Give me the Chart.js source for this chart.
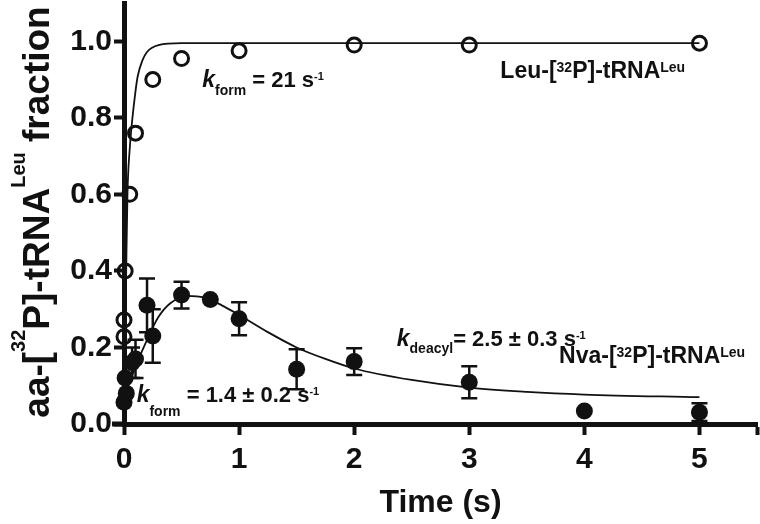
<!DOCTYPE html>
<html>
<head>
<meta charset="utf-8">
<script src="https://cdn.jsdelivr.net/npm/chart.js@4.4.1/dist/chart.umd.min.js"></script>
<style>
  html, body { margin: 0; padding: 0; background: #fff; }
  #wrap { width: 760px; height: 524px; }
</style>
</head>
<body>
<div id="wrap"><canvas id="chart"></canvas></div>
<script>
// Leu-[32P]-tRNALeu (open circles)
const leuTime = [0, 0, 0.01, 0.05, 0.1, 0.25, 0.5, 1, 2, 3, 5];
const leuFrac = [0.228, 0.272, 0.40, 0.60, 0.76, 0.90, 0.955, 0.975, 0.99, 0.99, 0.995];

// Nva-[32P]-tRNALeu (filled circles, with SEM)
const nvaTime = [0, 0.02, 0.01, 0.07, 0.1, 0.2, 0.25, 0.5, 0.75, 1, 1.5, 2, 3, 4, 5];
const nvaFrac = [0.057, 0.08, 0.12, 0.16, 0.17, 0.31, 0.23, 0.337, 0.325, 0.275, 0.143, 0.163, 0.109, 0.034, 0.031];
const nvaErr  = [0, 0, 0, 0.04, 0.05, 0.07, 0.07, 0.035, 0, 0.043, 0.052, 0.035, 0.042, 0, 0.023];

// fitted curves
const leuFitT = [0, 0.01, 0.02, 0.03, 0.05, 0.07, 0.1, 0.12, 0.16, 0.2, 0.3, 0.5, 5];
const leuFitY = [0, 0.2, 0.42, 0.6, 0.72, 0.79, 0.87, 0.91, 0.95, 0.972, 0.99, 0.995, 0.995];
const nvaFitT = [0, 0.05, 0.1, 0.2, 0.3, 0.4, 0.55, 0.7, 0.85, 1, 1.25, 1.5, 1.75, 2, 2.5, 3, 3.5, 4, 5];
const nvaFitY = [0.07, 0.11, 0.15, 0.22, 0.28, 0.315, 0.335, 0.33, 0.31, 0.285, 0.24, 0.2, 0.17, 0.145, 0.115, 0.095, 0.084, 0.077, 0.07];

const xTicks = [0, 1, 2, 3, 4, 5];
const yTicks = [0, 0.2, 0.4, 0.6, 0.8, 1.0];

const ink = '#111';
const FONT = '"Liberation Sans", Arial, sans-serif';

const pts = (xs, ys) => xs.map((x, i) => ({ x: x, y: ys[i] }));

// text runs: [text, size, style, dy]
const notes = [
  { x: 0.68, y: 0.88, runs: [['k', 23, 'italic bold', 0], ['form', 14, 'bold', 8], [' = 21 s', 22, 'bold', 0], ['-1', 11, 'bold', -7]] },
  { x: 3.27, y: 0.905, runs: [['Leu-[', 23, 'bold', 0], ['32', 14, 'bold', -6], ['P]-tRNA', 23, 'bold', 0], ['Leu', 14, 'bold', -6]] },
  { x: 2.37, y: 0.205, runs: [['k', 23, 'italic bold', 0], ['deacyl', 14, 'bold', 7], ['= 2.5 \u00b1 0.3 s', 22, 'bold', 0], ['-1', 11, 'bold', -7]] },
  { x: 3.78, y: 0.16, runs: [['Nva-[', 23, 'bold', 0], ['32', 14, 'bold', -6], ['P]-tRNA', 23, 'bold', 0], ['Leu', 14, 'bold', -6]] },
  { x: 0.11, y: 0.058, runs: [['k', 23, 'italic bold', 0], ['form', 14, 'bold', 14], [' = 1.4 \u00b1 0.2 s', 22, 'bold', 0], ['-1', 11, 'bold', -7]] }
];
const yTitle = [['aa-[', 37, 'bold', 0], ['32', 20, 'bold', -24], ['P]-tRNA', 37, 'bold', 0], ['Leu', 20, 'bold', -24], [' fraction', 37, 'bold', 0]];

function runsWidth(ctx, runs) {
  let w = 0;
  runs.forEach(r => { ctx.font = r[2] + ' ' + r[1] + 'px ' + FONT; w += ctx.measureText(r[0]).width; });
  return w;
}
function drawRuns(ctx, x, y, runs) {
  runs.forEach(r => {
    ctx.font = r[2] + ' ' + r[1] + 'px ' + FONT;
    ctx.fillText(r[0], x, y + r[3]);
    x += ctx.measureText(r[0]).width;
  });
}

const extras = {
  id: 'extras',
  beforeDatasetsDraw(chart) {
    const ctx = chart.ctx, xs = chart.scales.x, ys = chart.scales.y;
    ctx.save();
    ctx.strokeStyle = ink;
    ctx.lineWidth = 2.5;
    nvaTime.forEach((t, i) => {
      if (!nvaErr[i]) return;
      const px = xs.getPixelForValue(t);
      const top = ys.getPixelForValue(nvaFrac[i] + nvaErr[i]);
      const bot = ys.getPixelForValue(nvaFrac[i] - nvaErr[i]);
      ctx.beginPath();
      ctx.moveTo(px, top); ctx.lineTo(px, bot);
      ctx.moveTo(px - 8, top); ctx.lineTo(px + 8, top);
      ctx.moveTo(px - 8, bot); ctx.lineTo(px + 8, bot);
      ctx.stroke();
    });
    ctx.restore();
  },
  afterDraw(chart) {
    const ctx = chart.ctx, xs = chart.scales.x, ys = chart.scales.y;
    const area = chart.chartArea;
    ctx.save();
    // x axis runs a little past the y axis
    ctx.strokeStyle = ink;
    ctx.lineWidth = 5;
    ctx.beginPath();
    ctx.moveTo(area.left - 12, area.bottom);
    ctx.lineTo(area.left, area.bottom);
    ctx.stroke();

    ctx.fillStyle = ink;
    ctx.textBaseline = 'alphabetic';
    ctx.textAlign = 'left';
    notes.forEach(n => drawRuns(ctx, xs.getPixelForValue(n.x), ys.getPixelForValue(n.y), n.runs));

    // rotated y title
    ctx.translate(49, 212);
    ctx.rotate(-Math.PI / 2);
    drawRuns(ctx, -runsWidth(ctx, yTitle) / 2, 0, yTitle);
    ctx.restore();
  }
};

new Chart(document.getElementById('chart'), {
  type: 'scatter',
  data: {
    datasets: [
      {
        label: 'Leu fit',
        data: pts(leuFitT, leuFitY),
        showLine: true,
        borderColor: ink,
        borderWidth: 1.8,
        pointRadius: 0,
        cubicInterpolationMode: 'monotone',
        order: 3
      },
      {
        label: 'Nva fit',
        data: pts(nvaFitT, nvaFitY),
        showLine: true,
        borderColor: ink,
        borderWidth: 1.8,
        pointRadius: 0,
        cubicInterpolationMode: 'monotone',
        order: 3
      },
      {
        label: 'Leu-[32P]-tRNALeu',
        data: pts(leuTime, leuFrac),
        pointRadius: 7,
        pointBorderWidth: 3,
        pointBorderColor: ink,
        pointBackgroundColor: 'rgba(0,0,0,0)',
        clip: false,
        order: 1
      },
      {
        label: 'Nva-[32P]-tRNALeu',
        data: pts(nvaTime, nvaFrac),
        pointRadius: 8.5,
        pointBorderWidth: 0,
        pointBackgroundColor: ink,
        clip: false,
        order: 2
      }
    ]
  },
  options: {
    responsive: true,
    maintainAspectRatio: false,
    animation: false,
    layout: { autoPadding: false, padding: { left: 0, top: 3, right: 3, bottom: 0 } },
    plugins: {
      legend: { display: false },
      tooltip: { enabled: false }
    },
    scales: {
      x: {
        type: 'linear',
        min: 0,
        max: 5.5,
        afterFit: s => { s.height = 100; s.paddingLeft = 0; s.paddingRight = 0; },
        afterBuildTicks: s => {
          s.ticks = xTicks.map(v => ({ value: v }));
          s.ticks.push({ value: 5.5 });
        },
        ticks: {
          color: ink,
          padding: 7,
          font: { family: FONT, size: 30, weight: 'bold' },
          callback: v => (v > 5 ? '' : String(v))
        },
        grid: { drawOnChartArea: false, tickLength: 11, tickWidth: 4, tickColor: ink },
        border: { color: ink, width: 5 },
        title: {
          display: true,
          text: 'Time (s)',
          color: ink,
          font: { family: FONT, size: 32, weight: 'bold' },
          padding: { top: 0, bottom: 2 }
        }
      },
      y: {
        min: 0,
        max: 1.1,
        afterFit: s => { s.width = 124; s.paddingTop = 0; s.paddingBottom = 0; },
        afterBuildTicks: s => { s.ticks = yTicks.map(v => ({ value: v })); },
        ticks: {
          color: ink,
          padding: 2,
          font: { family: FONT, size: 30, weight: 'bold' },
          callback: v => v.toFixed(1)
        },
        grid: { drawOnChartArea: false, tickLength: 10, tickWidth: 4, tickColor: ink },
        border: { color: ink, width: 5 }
      }
    }
  },
  plugins: [extras]
});
</script>
</body>
</html>
